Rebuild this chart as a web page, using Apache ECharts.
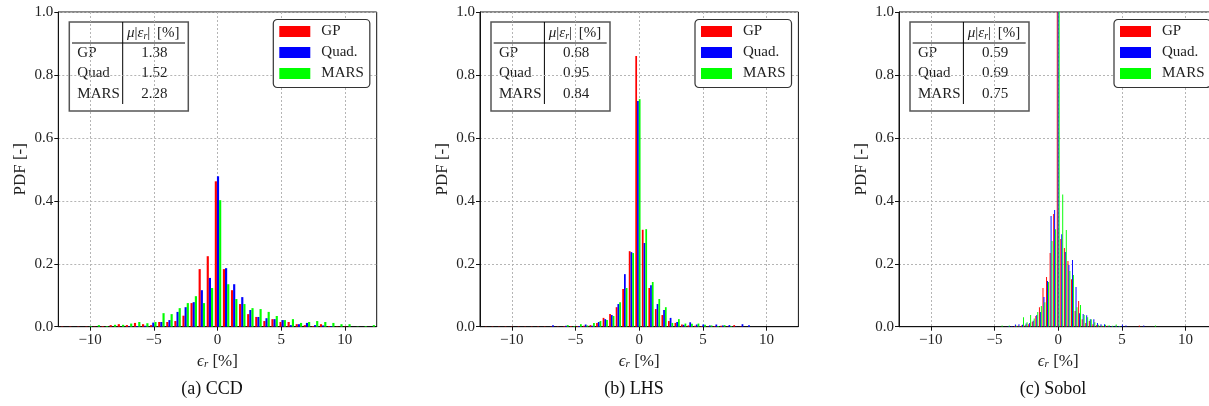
<!DOCTYPE html>
<html>
<head>
<meta charset="utf-8">
<script src="https://cdn.jsdelivr.net/npm/echarts@6/dist/echarts.min.js"></script>
<style>
  html, body { margin: 0; padding: 0; background: #fff; }
  #chart { width: 1209px; height: 406px; }
</style>
</head>
<body>
<div id="chart"></div>
<script>
// ---- data ----------------------------------------------------------------
const seriesNames = ['GP', 'Quad.', 'MARS'];
const seriesColors = ['#ff0000', '#0000ff', '#00ff00'];
const captions = ['(a) CCD', '(b) LHS', '(c) Sobol'];
const tableRowLabels = ['GP', 'Quad', 'MARS'];
const ccdMeanAbsError = ['1.38', '1.52', '2.28'];
const lhsMeanAbsError = ['0.68', '0.95', '0.84'];
const sobolMeanAbsError = ['0.59', '0.69', '0.75'];
const xTickValues = [-10, -5, 0, 5, 10];

// CCD: relative error histogram (PDF), bins of equal width
const ccdBinWidth = 0.635;
const ccdFirstBinCenter = -12.025;
const ccdGP = [0.001, 0.001, 0.001, 0.001, 0.001, 0.002, 0.005, 0.008, 0.005, 0.012, 0.008, 0.005, 0.015, 0.015, 0.018, 0.035, 0.075, 0.183, 0.224,
  0.462,
  0.183, 0.116, 0.072, 0.040, 0.031, 0.018, 0.024, 0.015, 0.015, 0.008, 0.005, 0.002, 0.008, 0.002, 0.001, 0.001, 0, 0, 0];
const ccdQuad = [0, 0, 0, 0, 0, 0, 0, 0, 0.001, 0.002, 0.003, 0.013, 0.015, 0.021, 0.047, 0.062, 0.078, 0.116, 0.155,
  0.478,
  0.186, 0.135, 0.094, 0.053, 0.031, 0.027, 0.024, 0.021, 0.005, 0.008, 0.012, 0.005, 0.004, 0.002, 0, 0, 0, 0, 0];
const ccdMARS = [0, 0, 0, 0.002, 0.005, 0.002, 0.006, 0.006, 0.010, 0.015, 0.011, 0.015, 0.043, 0.040, 0.059, 0.075, 0.097, 0.075, 0.123,
  0.402,
  0.135, 0.088, 0.072, 0.059, 0.056, 0.047, 0.034, 0.021, 0.024, 0.012, 0.015, 0.018, 0.015, 0.012, 0.008, 0.008, 0.001, 0.002, 0.005];

// LHS
const lhsBinWidth = 0.513;
const lhsFirstBinCenter = -11.899;
const lhsGP = [0.001, 0.001, 0.001, 0.001, 0.001, 0.001, 0.001, 0.001, 0.001, 0.001, 0.001, 0.001, 0.002, 0.002, 0.002, 0.003, 0.005, 0.012, 0.028, 0.040, 0.062, 0.120, 0.240,
  0.860,
  0.308, 0.123, 0.056, 0.037, 0.018, 0.012, 0.007, 0.004, 0.003, 0.002, 0.001, 0.002, 0.003, 0.001, 0.005, 0.001, 0, 0, 0, 0, 0, 0, 0, 0];
const lhsQuad = [0, 0, 0, 0, 0, 0, 0, 0, 0, 0, 0.005, 0, 0.003, 0, 0.002, 0.007, 0.003, 0.015, 0.024, 0.037, 0.072, 0.167, 0.237,
  0.717,
  0.266, 0.132, 0.072, 0.053, 0.028, 0.015, 0.006, 0.014, 0.007, 0.007, 0.004, 0.007, 0.004, 0.005, 0.001, 0.008, 0.005, 0, 0, 0, 0, 0, 0, 0];
const lhsMARS = [0, 0, 0, 0, 0, 0, 0, 0, 0, 0, 0, 0, 0.005, 0.002, 0.008, 0.004, 0.012, 0.018, 0.021, 0.034, 0.078, 0.123, 0.234,
  0.723,
  0.310, 0.142, 0.088, 0.062, 0.012, 0.024, 0.010, 0.009, 0.010, 0.006, 0.004, 0.002, 0.005, 0.002, 0, 0, 0, 0, 0, 0, 0, 0, 0, 0];

// Sobol (central bin runs far above the plotted range)
const sobolBinWidth = 0.28;
const sobolFirstBinCenter = -4.48;
const sobolGP = [0, 0, 0, 0, 0.002, 0.003, 0.004, 0.005, 0.008, 0.016, 0.034, 0.062, 0.123, 0.158, 0.234, 0.358,
  1.65,
  0.279, 0.250, 0.209, 0.151, 0.050, 0.082, 0.024, 0.012, 0.018, 0.008, 0.005, 0.003, 0.002, 0.003, 0, 0, 0, 0, 0, 0, 0, 0, 0.004, 0, 0, 0, 0];
const sobolQuad = [0, 0, 0.002, 0.002, 0.007, 0.008, 0.006, 0.010, 0.012, 0.019, 0.037, 0.047, 0.094, 0.145, 0.352, 0.371,
  1.60,
  0.294, 0.237, 0.196, 0.212, 0.126, 0.043, 0.040, 0.036, 0.024, 0.024, 0.012, 0.008, 0.008, 0.002, 0.002, 0.003, 0.002, 0.007, 0.004, 0, 0, 0, 0, 0.004, 0, 0, 0];
const sobolMARS = [0.004, 0, 0.004, 0, 0.003, 0.002, 0.030, 0.014, 0.037, 0.026, 0.047, 0.066, 0.078, 0.142, 0.272, 0.310,
  1.55,
  0.420, 0.307, 0.177, 0.164, 0.062, 0.069, 0.037, 0.030, 0.024, 0.014, 0.006, 0.004, 0.006, 0.005, 0.003, 0.007, 0.002, 0, 0, 0, 0, 0, 0, 0, 0, 0, 0.004];

// ---- layout ---------------------------------------------------------------
const SERIF = "'Liberation Serif', 'DejaVu Serif', serif";
const panelLeft = [58.3, 480, 899];
const plotTop = 12;
const plotWidth = 318.4;
const plotHeight = 314.7;
const captionX = [212, 634, 1053];

const panels = [
  { first: ccdFirstBinCenter, width: ccdBinWidth, values: [ccdGP, ccdQuad, ccdMARS], table: ccdMeanAbsError },
  { first: lhsFirstBinCenter, width: lhsBinWidth, values: [lhsGP, lhsQuad, lhsMARS], table: lhsMeanAbsError },
  { first: sobolFirstBinCenter, width: sobolBinWidth, values: [sobolGP, sobolQuad, sobolMARS], table: sobolMeanAbsError }
];

// matplotlib-style grouped histogram: the three datasets share 80% of each bin
function histogramBars(firstCenter, binWidth, values, slot) {
  const barWidth = 0.8 * binWidth / 3;
  const bars = [];
  values.forEach((v, i) => {
    if (v <= 0) return;
    const left = firstCenter + i * binWidth - 0.4 * binWidth + slot * barWidth;
    bars.push([left, left + barWidth, v]);
  });
  return bars;
}

function renderBar(params, api) {
  const top = api.coord([api.value(0), api.value(2)]);
  const base = api.coord([api.value(1), 0]);
  const cs = params.coordSys;
  const shape = echarts.graphic.clipRectByRect(
    { x: top[0], y: top[1], width: base[0] - top[0], height: base[1] - top[1] },
    { x: cs.x, y: cs.y, width: cs.width, height: cs.height }
  );
  return shape && { type: 'rect', shape: shape, style: { fill: api.visual('color') } };
}

const grids = [], xAxes = [], yAxes = [], series = [], legends = [], graphics = [];

panels.forEach((panel, p) => {
  const left = panelLeft[p];
  grids.push({
    left: left, top: plotTop, width: plotWidth, height: plotHeight,
    show: true, borderColor: '#111', borderWidth: 1,
    containLabel: false, outerBoundsMode: 'none'
  });
  xAxes.push({
    gridIndex: p, type: 'value', min: -12.5, max: 12.5,
    axisLine: { show: true, onZero: false, lineStyle: { color: '#111', width: 1 } },
    axisTick: { show: true, inside: false, length: 4, customValues: xTickValues, lineStyle: { color: '#111' } },
    axisLabel: {
      customValues: xTickValues, margin: 6, color: '#222', fontFamily: SERIF, fontSize: 15,
      formatter: v => String(v).replace('-', '\u2212')
    },
    splitLine: { show: true, lineStyle: { color: '#b5b5b5', type: [2, 2], width: 1 } },
    name: '{i|\u03f5}{s|r} [%]',
    nameLocation: 'middle', nameGap: 23,
    nameTextStyle: {
      color: '#222', fontFamily: SERIF, fontSize: 17,
      rich: {
        i: { fontFamily: SERIF, fontSize: 17, fontStyle: 'italic', color: '#222' },
        s: { fontFamily: SERIF, fontSize: 11, fontStyle: 'italic', color: '#222', padding: [7, 0, 0, 0] }
      }
    }
  });
  yAxes.push({
    gridIndex: p, type: 'value', min: 0, max: 1, interval: 0.2,
    axisLine: { show: true, onZero: false, lineStyle: { color: '#111', width: 1 } },
    axisTick: { show: true, inside: false, length: 4, lineStyle: { color: '#111' } },
    axisLabel: { margin: 5, color: '#222', fontFamily: SERIF, fontSize: 15, formatter: v => v.toFixed(1) },
    splitLine: { show: true, lineStyle: { color: '#b5b5b5', type: [2, 2], width: 1 } },
    name: 'PDF [-]', nameLocation: 'middle', nameGap: 29,
    nameTextStyle: { color: '#222', fontFamily: SERIF, fontSize: 17 }
  });
  seriesNames.forEach((name, s) => {
    series.push({
      type: 'custom', name: name, xAxisIndex: p, yAxisIndex: p,
      itemStyle: { color: seriesColors[s] },
      encode: { x: [0, 1], y: 2 },
      renderItem: renderBar,
      data: histogramBars(panel.first, panel.width, panel.values[s], s),
      z: 2 + s, silent: true
    });
  });
  legends.push({
    data: seriesNames, orient: 'vertical', left: left + 215, top: 19.5,
    icon: 'rect', itemWidth: 31, itemHeight: 11, itemGap: 5,
    padding: [4, 6, 6, 6], borderColor: '#333', borderWidth: 1.2, borderRadius: 4,
    backgroundColor: '#fff', selectedMode: false,
    textStyle: { fontFamily: SERIF, fontSize: 15, color: '#222', lineHeight: 16, padding: [0, 0, 0, 6] }
  });

  // μ|ε_r| summary table
  const tx = left + 11;
  const children = [
    { type: 'rect', shape: { x: tx, y: 22, width: 119, height: 89 },
      style: { fill: '#fff', stroke: '#555', lineWidth: 1.5 } },
    { type: 'line', shape: { x1: tx + 53.4, y1: 22, x2: tx + 53.4, y2: 104 },
      style: { stroke: '#000', lineWidth: 1 } },
    { type: 'line', shape: { x1: tx + 2.7, y1: 43, x2: tx + 115.7, y2: 43 },
      style: { stroke: '#000', lineWidth: 1 } },
    { type: 'text', x: tx + 84, y: 33,
      style: {
        text: '{i|\u03bc}|{i|\u03b5}{s|r}|\u2009 [%]', align: 'center', verticalAlign: 'middle',
        fontFamily: SERIF, fontSize: 15, fill: '#222',
        rich: {
          i: { fontFamily: SERIF, fontSize: 15, fontStyle: 'italic', fill: '#222' },
          s: { fontFamily: SERIF, fontSize: 10, fontStyle: 'italic', fill: '#222', padding: [6, 0, 0, 0] }
        }
      } }
  ];
  const rowY = [53.3, 73.5, 94.3];
  tableRowLabels.forEach((label, r) => {
    children.push({ type: 'text', x: tx + 8, y: rowY[r],
      style: { text: label, align: 'left', verticalAlign: 'middle', fontFamily: SERIF, fontSize: 15, fill: '#222' } });
    children.push({ type: 'text', x: tx + 85, y: rowY[r],
      style: { text: panel.table[r], align: 'center', verticalAlign: 'middle', fontFamily: SERIF, fontSize: 15, fill: '#222' } });
  });
  graphics.push({ type: 'group', z: 20, children: children });
  graphics.push({ type: 'text', x: captionX[p], y: 389, z: 20,
    style: { text: captions[p], align: 'center', verticalAlign: 'middle', fontFamily: SERIF, fontSize: 18, fill: '#111' } });
});

const chart = echarts.init(document.getElementById('chart'), null, { renderer: 'canvas' });
chart.setOption({
  animation: false,
  backgroundColor: '#fff',
  grid: grids,
  xAxis: xAxes,
  yAxis: yAxes,
  legend: legends,
  series: series,
  graphic: graphics
});
</script>
</body>
</html>
